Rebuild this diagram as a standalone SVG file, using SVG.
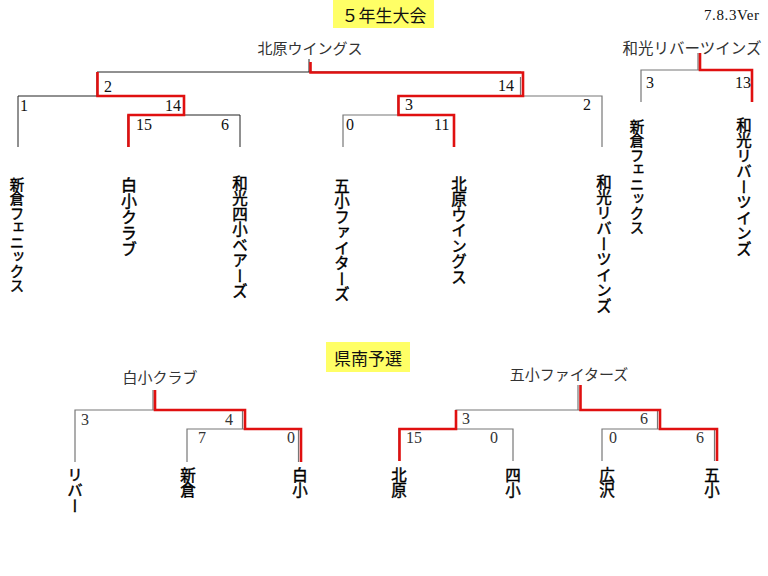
<svg xmlns="http://www.w3.org/2000/svg" width="768" height="576" viewBox="0 0 768 576">
<style>
.bg{fill:#ffffff}
.ttl{fill:#ffff66}
.ttlt{font-family:"Noto Sans CJK JP","Noto Sans",sans-serif;font-size:17px;fill:#111;text-anchor:middle}
.ver{font-family:"Liberation Serif",serif;font-size:15px;fill:#111}
.win{font-family:"Noto Sans CJK JP",sans-serif;font-size:15px;fill:#333;text-anchor:middle}
.sc{font-family:"Liberation Serif",serif;font-size:16px;fill:#111}
.sc2{font-family:"Liberation Serif",serif;font-size:16px;fill:#333}
.nm{font-family:"Noto Sans CJK JP",sans-serif;font-weight:400;fill:#000;stroke:#000;stroke-width:0.45;writing-mode:vertical-rl;text-orientation:mixed}
.ln{fill:none;stroke:#222;stroke-width:1}
.lg{fill:none;stroke:#777;stroke-width:1.2}
.rd{fill:none;stroke:#e01010;stroke-width:2.6;stroke-linejoin:miter}
</style>
<rect class="bg" x="0" y="0" width="768" height="576"/>

<g id="title-main">
<rect class="ttl" x="333" y="0" width="101" height="28"/>
<text class="ttlt" x="384" y="22">５年生大会</text>
</g>
<g id="version">
<text class="ver" x="704" y="20" textLength="55">7.8.3Ver</text>
</g>
<g id="title-sub">
<rect class="ttl" x="326" y="342" width="84" height="30"/>
<text class="ttlt" x="368" y="365">県南予選</text>
</g>

<g id="connectors">
<path class="ln" d="M309 59 V72 H521 M97 72 H309"/>
<path class="ln" d="M18 147 V96 H97 V72 M97 96 H184 V115 M128 147 V115 H240 V147"/>
<path class="lg" d="M520.5 77 V96 H602 V147 M398 96 H521 M343 147 V115 H454 V147 M398 96 V115"/>
<path class="rd" d="M97.5 72 V96 H184 V115 H128.5 V147"/>
<path class="rd" d="M310.5 62 V72.5 H523 V96 H398.5 V115 H454 V147"/>
<path class="lg" d="M698 53 V70 H641 V102 M698 70 H752"/>
<path class="rd" d="M700 53 V70 H752 V102"/>
<path class="lg" d="M153 390 V410 H75 V462 M153 410 H242.5 V429 H187 V462 M242.5 429 H298.5 V462"/>
<path class="rd" d="M155 390 V410 H245 V429 H301 V462"/>
<path class="lg" d="M578 385 V410 H456 V429 H513 V461 M578 410 H657.5 V429 H602 V461 M657.5 429 H714.5 V461 M456 429 H399 V461"/>
<path class="rd" d="M580.5 385 V410 H660 V429 H717 V461 M456 410 V429 H399.5 V461"/>
</g>

<g id="scores">
<text class="sc" x="104" y="92">2</text>
<text class="sc" x="20" y="111">1</text>
<text class="sc" x="165" y="111">14</text>
<text class="sc" x="136" y="130">15</text>
<text class="sc" x="221" y="130">6</text>
<text class="sc" x="346" y="130">0</text>
<text class="sc" x="498" y="91">14</text>
<text class="sc" x="405" y="110">3</text>
<text class="sc" x="583" y="110">2</text>
<text class="sc" x="434" y="130">11</text>
<text class="sc" x="646" y="88">3</text>
<text class="sc" x="735" y="88">13</text>
<text class="sc2" x="81" y="425">3</text>
<text class="sc2" x="225" y="425">4</text>
<text class="sc2" x="198" y="443">7</text>
<text class="sc2" x="287" y="443">0</text>
<text class="sc2" x="462" y="424">3</text>
<text class="sc2" x="640" y="424">6</text>
<text class="sc2" x="406" y="443">15</text>
<text class="sc2" x="490" y="443">0</text>
<text class="sc2" x="609" y="443">0</text>
<text class="sc2" x="696" y="443">6</text>
</g>

<g id="winner-main"><text class="win" x="310" y="54">北原ウイングス</text></g>
<g id="winner-right"><text class="win" x="692" y="54" style="font-size:15.5px">和光リバーツインズ</text></g>
<g id="winner-bl"><text class="win" x="160" y="383">白小クラブ</text></g>
<g id="winner-br"><text class="win" x="569" y="380">五小ファイターズ</text></g>

<g id="team-niikura"><text class="nm" x="17" y="177" style="font-size:14.5px">新倉フェニックス</text></g>
<g id="team-shirako"><text class="nm" x="129" y="177" style="font-size:16px">白小クラブ</text></g>
<g id="team-wako4"><text class="nm" x="240" y="175" style="font-size:15.5px">和光四小ベアーズ</text></g>
<g id="team-goshou"><text class="nm" x="342" y="178" style="font-size:15.5px">五小ファイターズ</text></g>
<g id="team-kitahara"><text class="nm" x="459" y="176" style="font-size:15.5px">北原ウイングス</text></g>
<g id="team-wakoriver"><text class="nm" x="604" y="174" style="font-size:15.5px">和光リバーツインズ</text></g>
<g id="team-niikura-r"><text class="nm" x="637" y="119" style="font-size:14.5px">新倉フェニックス</text></g>
<g id="team-wakoriver-r"><text class="nm" x="744" y="117" style="font-size:15.5px">和光リバーツインズ</text></g>

<g id="team-river"><text class="nm" x="75" y="467" style="font-size:15.5px">リバー</text></g>
<g id="team-niikura-b"><text class="nm" x="188" y="467" style="font-size:15.5px">新倉</text></g>
<g id="team-shirako-b"><text class="nm" x="300" y="467" style="font-size:15.5px">白小</text></g>
<g id="team-kitahara-b"><text class="nm" x="399" y="467" style="font-size:15.5px">北原</text></g>
<g id="team-yonsho-b"><text class="nm" x="513" y="467" style="font-size:15.5px">四小</text></g>
<g id="team-hirosawa-b"><text class="nm" x="607" y="467" style="font-size:15.5px">広沢</text></g>
<g id="team-goshou-b"><text class="nm" x="712" y="467" style="font-size:15.5px">五小</text></g>
</svg>
